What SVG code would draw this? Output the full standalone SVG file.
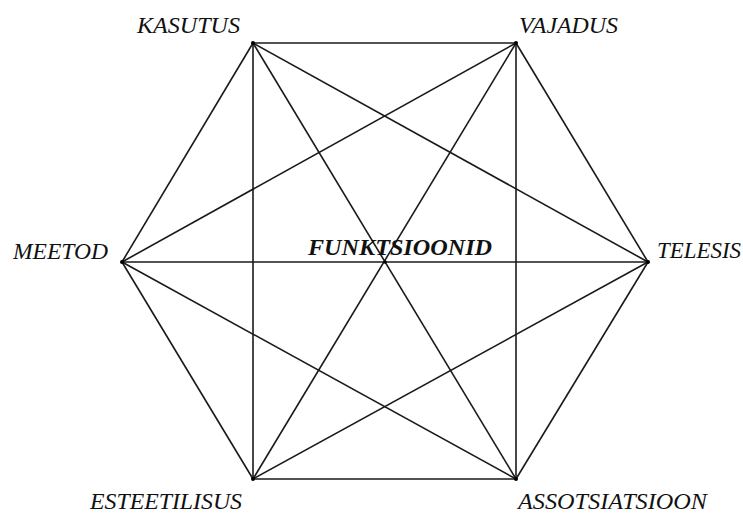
<svg xmlns="http://www.w3.org/2000/svg" width="743" height="514" viewBox="0 0 743 514">
<style>
.e{stroke:#1a1a1a;stroke-width:1.6;fill:none}
.d{fill:#000}
.t{font-family:"Liberation Serif","Times New Roman",serif;font-style:italic;font-size:23px;fill:#111}
.c{font-family:"Liberation Serif","Times New Roman",serif;font-style:italic;font-weight:bold;font-size:23px;fill:#111}
</style>
<rect width="743" height="514" fill="#fff"/>
<g id="connectors">
<line class="e" x1="253" y1="43" x2="516" y2="43"/>
<line class="e" x1="516" y1="43" x2="648" y2="262"/>
<line class="e" x1="648" y1="262" x2="516" y2="479"/>
<line class="e" x1="516" y1="479" x2="253" y2="479"/>
<line class="e" x1="253" y1="479" x2="122" y2="262"/>
<line class="e" x1="122" y1="262" x2="253" y2="43"/>
<line class="e" x1="253" y1="43" x2="648" y2="262"/>
<line class="e" x1="253" y1="43" x2="516" y2="479"/>
<line class="e" x1="253" y1="43" x2="253" y2="479"/>
<line class="e" x1="516" y1="43" x2="122" y2="262"/>
<line class="e" x1="516" y1="43" x2="253" y2="479"/>
<line class="e" x1="516" y1="43" x2="516" y2="479"/>
<line class="e" x1="122" y1="262" x2="648" y2="262"/>
<line class="e" x1="122" y1="262" x2="516" y2="479"/>
<line class="e" x1="253" y1="479" x2="648" y2="262"/>
</g>
<g id="kasutus"><circle class="d" cx="253" cy="43" r="2"/><text class="t" x="137" y="33" textLength="103" lengthAdjust="spacingAndGlyphs">KASUTUS</text></g>
<g id="vajadus"><circle class="d" cx="516" cy="43" r="2"/><text class="t" x="519" y="33" textLength="99" lengthAdjust="spacingAndGlyphs">VAJADUS</text></g>
<g id="meetod"><circle class="d" cx="122" cy="262" r="2"/><text class="t" x="13" y="259" textLength="95" lengthAdjust="spacingAndGlyphs">MEETOD</text></g>
<g id="telesis"><circle class="d" cx="648" cy="262" r="2"/><text class="t" x="657" y="258" textLength="84" lengthAdjust="spacingAndGlyphs">TELESIS</text></g>
<g id="esteetilisus"><circle class="d" cx="253" cy="479" r="2"/><text class="t" x="90" y="509" textLength="152" lengthAdjust="spacingAndGlyphs">ESTEETILISUS</text></g>
<g id="assotsiatsioon"><circle class="d" cx="516" cy="479" r="2"/><text class="t" x="518" y="509" textLength="189" lengthAdjust="spacingAndGlyphs">ASSOTSIATSIOON</text></g>
<g id="funktsioonid"><circle class="d" cx="385" cy="262" r="1.8"/><text class="c" x="308" y="255" textLength="184" lengthAdjust="spacingAndGlyphs">FUNKTSIOONID</text></g>
</svg>
